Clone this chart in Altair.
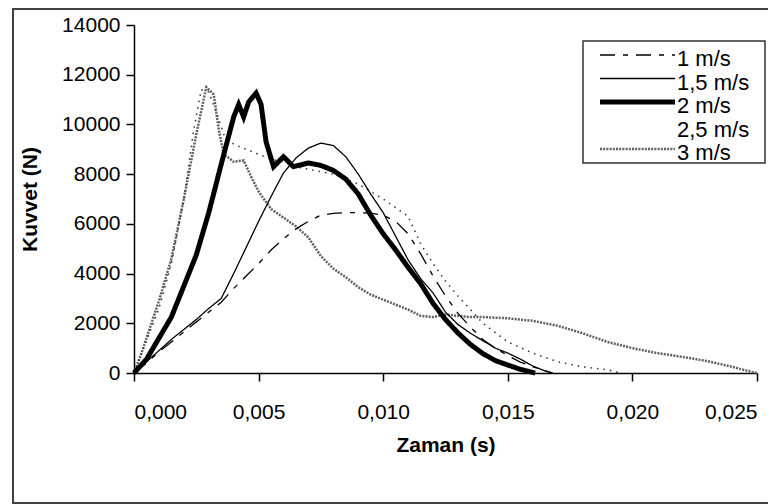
import altair as alt
import pandas as pd

SERIES = ["1 m/s", "1,5 m/s", "2 m/s", "2,5 m/s", "3 m/s"]

# 1 m/s
T1 = [0, 0.0005, 0.001, 0.0015, 0.002, 0.0025, 0.003, 0.0035, 0.004, 0.0045, 0.005, 0.0055,
      0.006, 0.0065, 0.007, 0.0075, 0.008, 0.0085, 0.009, 0.0095, 0.010, 0.0105, 0.011, 0.0115,
      0.012, 0.0125, 0.013, 0.0135, 0.014, 0.0145, 0.015, 0.0155, 0.016, 0.0165, 0.0168]
F1 = [0, 400, 850, 1250, 1650, 2050, 2450, 2850, 3400, 3900, 4400, 4950,
      5400, 5800, 6100, 6350, 6420, 6450, 6450, 6430, 6350, 6100, 5600, 4800,
      3900, 3100, 2400, 1850, 1350, 1000, 700, 440, 250, 100, 0]

# 1,5 m/s
T15 = [0, 0.0005, 0.001, 0.0015, 0.002, 0.0025, 0.003, 0.0035, 0.004, 0.0045, 0.005, 0.0055,
       0.006, 0.0065, 0.007, 0.0075, 0.008, 0.0085, 0.009, 0.0095, 0.010, 0.0105, 0.011, 0.0115,
       0.012, 0.0125, 0.013, 0.0135, 0.014, 0.0145, 0.015, 0.0155, 0.016, 0.0165, 0.0168]
F15 = [0, 450, 900, 1350, 1750, 2150, 2600, 3000, 4000, 5050, 6100, 7100,
       8050, 8650, 9050, 9250, 9150, 8700, 8000, 7200, 6450, 5500, 4550, 3800,
       3220, 2450, 1950, 1600, 1300, 1000, 800, 560, 280, 80, 0]

# 2 m/s
T2 = [0, 0.0005, 0.001, 0.0015, 0.002, 0.0025, 0.003, 0.0035, 0.004, 0.0042, 0.0044, 0.0046,
      0.0049, 0.0051, 0.0053, 0.0056, 0.006, 0.0064, 0.007, 0.0075, 0.008, 0.0085, 0.009,
      0.0095, 0.010, 0.0105, 0.011, 0.0115, 0.012, 0.0125, 0.013, 0.0135, 0.014, 0.0145,
      0.015, 0.0155, 0.016, 0.0161]
F2 = [0, 550, 1400, 2250, 3500, 4750, 6450, 8400, 10300, 10800, 10300, 10900,
      11260, 10800, 9300, 8300, 8700, 8300, 8450, 8350, 8150, 7800, 7200,
      6350, 5600, 4950, 4250, 3600, 2800, 2150, 1610, 1150, 780, 500,
      320, 150, 20, 0]

# 2,5 m/s
T25 = [0, 0.0005, 0.001, 0.0015, 0.002, 0.0024, 0.0027, 0.003, 0.0033, 0.0036, 0.004, 0.0045,
       0.005, 0.0055, 0.006, 0.0065, 0.007, 0.008, 0.009, 0.010, 0.011, 0.0115, 0.012, 0.0125,
       0.013, 0.014, 0.015, 0.016, 0.017, 0.018, 0.019, 0.0195]
F25 = [0, 1300, 2600, 4400, 7000, 9800, 11400, 11300, 10500, 9600, 9200, 9000,
       8800, 8600, 8500, 8300, 8200, 8000, 7600, 7000, 6300, 5200, 4400, 3700,
       3100, 2000, 1250, 800, 450, 250, 130, 0]

# 3 m/s
T3 = [0, 0.0003, 0.0005, 0.001, 0.0015, 0.002, 0.0025, 0.0029, 0.0032, 0.0034, 0.0036, 0.004,
      0.0044, 0.0047, 0.005, 0.0055, 0.006, 0.0065, 0.007, 0.0075, 0.008, 0.0085, 0.009,
      0.0095, 0.010, 0.0105, 0.011, 0.0115, 0.012, 0.0125, 0.013, 0.0135, 0.014, 0.015,
      0.016, 0.017, 0.018, 0.019, 0.020, 0.021, 0.022, 0.023, 0.024, 0.0248, 0.025]
F3 = [0, 800, 1400, 2900, 4600, 7000, 9600, 11500, 11200, 9800, 8800, 8500,
      8550, 7900, 7300, 6600, 6250, 5900, 5450, 4700, 4200, 3850, 3450,
      3150, 2950, 2750, 2550, 2300, 2250, 2350, 2300, 2250, 2250, 2200,
      2100, 1900, 1600, 1250, 1000, 800, 650, 480, 250, 40, 0]

X_TICKS = [0, 0.005, 0.010, 0.015, 0.020, 0.025]
Y_TICKS = [0, 2000, 4000, 6000, 8000, 10000, 12000, 14000]

rows = []
for name, ts, fs in [(SERIES[4], T3, F3), (SERIES[3], T25, F25), (SERIES[0], T1, F1),
                     (SERIES[1], T15, F15), (SERIES[2], T2, F2)]:
    for t, f in zip(ts, fs):
        rows.append({"series": name, "t": t, "f": f})
df = pd.DataFrame(rows)
leg_df = pd.DataFrame({"series": SERIES})

FONT = "Liberation Sans"

color_scale = alt.Scale(domain=SERIES, range=["#000000", "#000000", "#000000", "#3a3a3a", "#606060"])
dash_scale = alt.Scale(domain=SERIES, range=[[15, 8, 5, 8], [1, 0], [1, 0], [1.5, 5], [2, 1.2]])
width_cond = (alt.when(alt.datum.series == "2 m/s").then(alt.value(5))
              .when(alt.datum.series == "3 m/s").then(alt.value(2.5))
              .when(alt.datum.series == "2,5 m/s").then(alt.value(1.6))
              .otherwise(alt.value(1.3)))

x_enc = alt.X("t:Q", scale=alt.Scale(domain=[0, 0.025], nice=False),
              axis=alt.Axis(values=X_TICKS, title="Zaman (s)",
                            labelExpr="replace(format(datum.value, '.3f'), '.', ',')",
                            labelPadding=20, titleX=311.5, titleY=72, titleBaseline="middle"))
y_enc = alt.Y("f:Q", scale=alt.Scale(domain=[0, 14000], nice=False),
              axis=alt.Axis(values=Y_TICKS, format="d", title="Kuvvet  (N)", labelPadding=6,
                            titleX=-104, titleY=174, titleAngle=270, titleAlign="center",
                            titleBaseline="middle"))

frame = alt.Chart(pd.DataFrame({"series": [SERIES[0]]})).mark_rect(
    fill="white", fillOpacity=0, stroke="#404040", strokeWidth=2
).encode(x=alt.value(-121), x2=alt.value(700), y=alt.value(-16), y2=alt.value(478))

lines = alt.Chart(df).mark_line().encode(
    x=x_enc, y=y_enc,
    color=alt.Color("series:N", scale=color_scale, legend=None),
    strokeDash=alt.StrokeDash("series:N", scale=dash_scale, legend=None),
    strokeWidth=width_cond,
)

row_scale = alt.Scale(type="point", domain=SERIES, range=[30, 124], padding=0)

leg_box = alt.Chart(pd.DataFrame({"series": [SERIES[0]]})).mark_rect(
    fill="white", stroke="#333333", strokeWidth=1.5
).encode(x=alt.value(449), x2=alt.value(631), y=alt.value(16), y2=alt.value(138))

leg_lines = alt.Chart(leg_df).transform_filter(alt.datum.series != "2,5 m/s").mark_rule().encode(
    x=alt.value(466), x2=alt.value(541),
    y=alt.Y("series:N", scale=row_scale, axis=None),
    color=alt.Color("series:N", scale=color_scale, legend=None),
    strokeDash=alt.StrokeDash("series:N", scale=dash_scale, legend=None),
    strokeWidth=width_cond,
)

leg_text = alt.Chart(leg_df).mark_text(
    align="left", baseline="middle", dy=4, font=FONT, fontSize=22, color="black"
).encode(
    x=alt.value(543),
    y=alt.Y("series:N", scale=row_scale, axis=None),
    text="series:N",
)

chart = alt.layer(frame, lines, leg_box, leg_lines, leg_text).resolve_scale(
    y="independent"
).properties(
    width=623, height=348,
    autosize=alt.AutoSizeParams(type="none"),
    padding={"left": 126, "top": 17, "right": 11, "bottom": 131},
    background="white",
).configure_view(stroke=None).configure_axis(
    labelFont=FONT, labelFontSize=21, labelColor="black",
    titleFont=FONT, titleFontSize=21, titleFontWeight="bold", titleColor="black",
    domainColor="black", tickColor="black", domainWidth=1.5, tickWidth=1.5, tickSize=8,
    grid=False,
)

chart.save("out.html", embed_options={"renderer": "svg", "actions": False})
